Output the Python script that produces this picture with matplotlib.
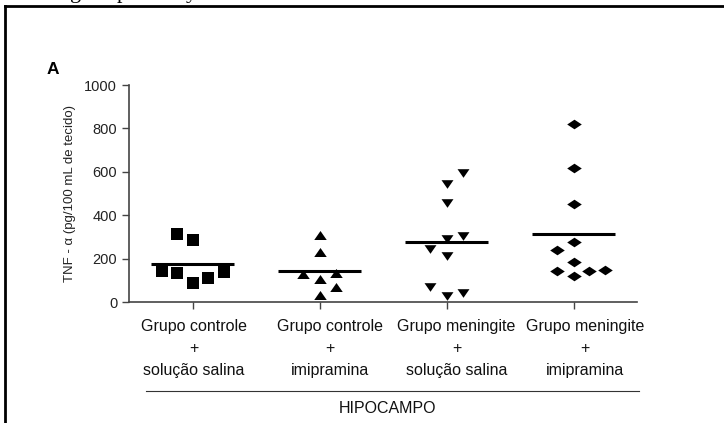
import numpy as np
import matplotlib
matplotlib.use('Agg')
import matplotlib.pyplot as plt
from matplotlib.lines import Line2D

plt.rcParams['font.family'] = ['Liberation Sans', 'DejaVu Sans']

# TNF-alpha in hippocampus (pg/100 mL de tecido)
ctrl_salina = [313, 284, 144, 135, 89, 109, 138]
ctrl_imip = [309, 232, 129, 132, 105, 71, 32]
men_salina = [593, 542, 458, 290, 304, 243, 213, 68, 28, 40]
men_imip = [822, 619, 452, 275, 240, 186, 144, 120, 141, 147]
means = [174, 144, 275, 313]

group_labels = ['Grupo controle\n+\nsolução salina', 'Grupo controle\n+\nimipramina',
                'Grupo meningite\n+\nsolução salina', 'Grupo meningite\n+\nimipramina']

# horizontal scatter offsets (layout only)
off1 = [-0.12, 0.0, -0.24, -0.12, 0.0, 0.12, 0.25]
off2 = [0.0, 0.0, -0.13, 0.13, 0.0, 0.13, 0.0]
off3 = [0.13, 0.0, 0.0, 0.0, 0.13, -0.13, 0.0, -0.13, 0.0, 0.13]
off4 = [0.0, 0.0, 0.0, 0.0, -0.13, 0.0, -0.13, 0.0, 0.12, 0.25]
label_shift = [0.01, 0.08, 0.08, 0.09]

tri_up = [(-1, -0.72), (1, -0.72), (0, 0.72)]
tri_dn = [(-1, 0.72), (1, 0.72), (0, -0.72)]
diam = [(-1, 0), (0, 0.66), (1, 0), (0, -0.66)]

groups = [(ctrl_salina, off1, 's', 8.6), (ctrl_imip, off2, tri_up, 9.0),
          (men_salina, off3, tri_dn, 8.6), (men_imip, off4, diam, 10.5)]

fig = plt.figure(figsize=(7.24, 4.23), dpi=100)
ax = fig.add_axes([129 / 724, 1 - 302 / 423, (637 - 129) / 724, (302 - 85) / 423])

for i, (vals, offs, mk, ms) in enumerate(groups):
    x = i + 1 + np.array(offs)
    ax.plot(x, vals, linestyle='none', marker=mk, markersize=ms, color='black',
            markeredgewidth=0, clip_on=False, zorder=3)
    ax.plot([i + 1 - 0.33, i + 1 + 0.33], [means[i], means[i]], color='black', lw=2.2,
            solid_capstyle='butt', zorder=2)

ax.set_xlim(0.5, 4.5)
ax.set_ylim(0, 1000)
ax.set_yticks(range(0, 1001, 200))
ax.set_xticks([1, 2, 3, 4])
ax.set_xticklabels([])
for s in ['top', 'right']:
    ax.spines[s].set_visible(False)
for s in ['left', 'bottom']:
    ax.spines[s].set_color('#444444')
    ax.spines[s].set_linewidth(1.2)
ax.tick_params(axis='both', colors='#444444', width=1.0, length=5, labelsize=10.5,
               labelcolor='#222222')
ax.set_ylabel('TNF - α (pg/100 mL de tecido)', fontsize=9.5, color='#222222', labelpad=6)

for i, lab in enumerate(group_labels):
    ax.text(i + 1 + label_shift[i], -0.08, lab, transform=ax.get_xaxis_transform(),
            ha='center', va='top', fontsize=11.5, linespacing=1.55, color='#111111')

fig.add_artist(Line2D([146 / 724, 639 / 724], [1 - 391 / 423, 1 - 391 / 423],
                      color='#333333', lw=0.8))
fig.text(387 / 724, 1 - 408 / 423, 'HIPOCAMPO', ha='center', va='center', fontsize=11.5,
         color='#111111')
fig.text(47 / 724, 1 - 69 / 423, 'A', ha='left', va='center', fontsize=12.5,
         fontweight='bold')

# page frame (scan crop) and clipped text from the previous line
fig.add_artist(Line2D([4.5 / 724, 4.5 / 724], [0, 1 - 6 / 423], color='black', lw=2))
fig.add_artist(Line2D([4.5 / 724, 1], [1 - 6 / 423, 1 - 6 / 423], color='black', lw=2))
for ch, px in [('g', 70), ('p', 117), ('y', 186)]:
    fig.text(px / 724, 1 + 2 / 423, ch, ha='left', va='baseline', fontsize=16,
             family='Liberation Serif')

fig.savefig('out.png', dpi=100)
